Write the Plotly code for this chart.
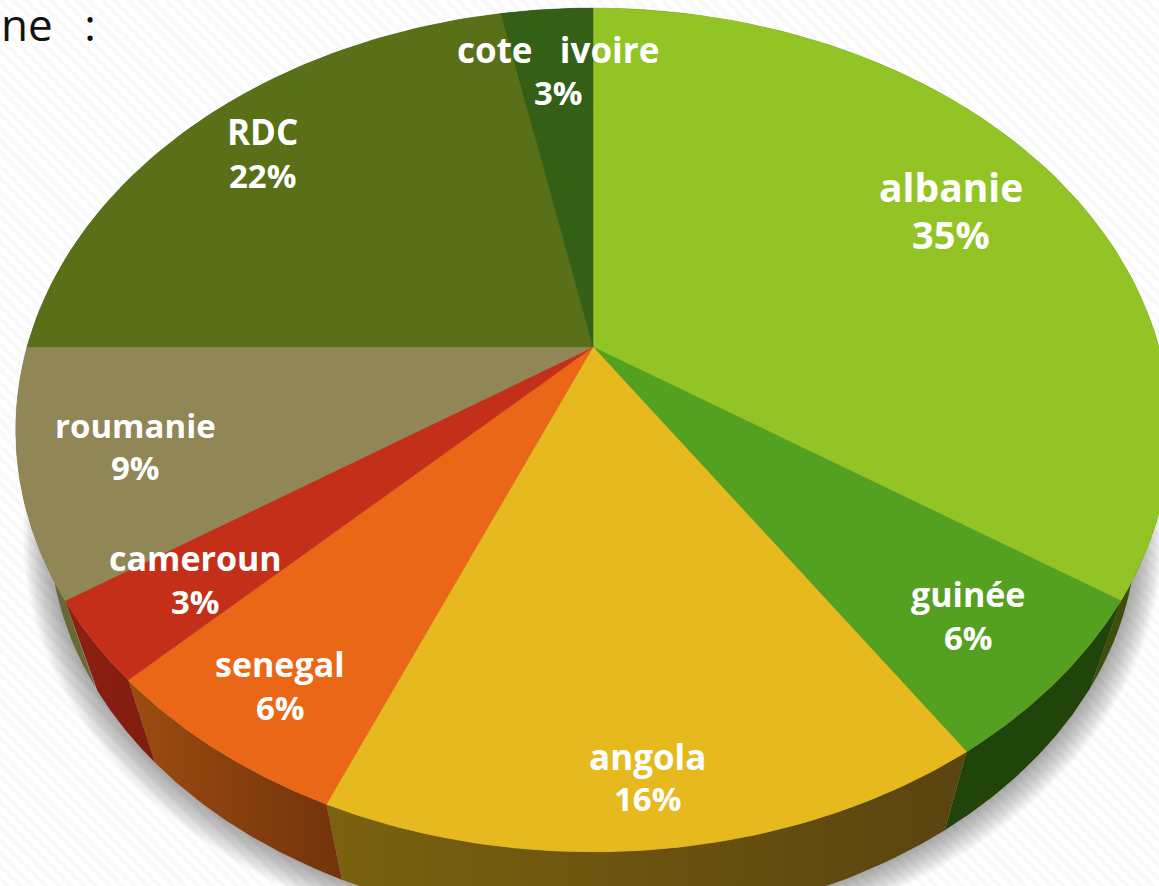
import numpy as np
import plotly.graph_objects as go

# ---- data ----
countries = ["albanie", "guinée", "angola", "senegal", "cameroun", "roumanie", "RDC", "cote  ivoire"]
shares = [34.4, 6.3, 15.6, 6.2, 3.1, 9.4, 21.9, 3.1]
percent_labels = ["35%", "6%", "16%", "6%", "3%", "9%", "22%", "3%"]

# ---- style ----
top_colors = ["#93C426", "#54A021", "#E6B91E", "#E96717", "#C42F1A", "#918655", "#5A7018", "#335F17"]
wall_left = ["#3F4D0A", "#21440B", "#7A6210", "#9C4C10", "#8E2112", "#6B6838", "#4A5A12", "#2A4E12"]
wall_right = ["#3F4D0A", "#21440B", "#5A440F", "#73330C", "#7E1C10", "#6B6838", "#4A5A12", "#2A4E12"]
label_x = [951, 968, 647, 280, 195, 135, 262, 558]
name_y = [186, 594, 756, 664, 558, 425, 131, 49]
pct_y = [234, 637, 798, 707, 601, 467, 175, 92]
name_size = [39, 34, 35, 34, 34, 33, 35, 35]
pct_size = [38, 33, 33, 33, 33, 33, 33, 33]
FONT = "'Open Sans', sans-serif"

W, H = 1159, 886
CX, CY = 593, 347        # top-face centre
A, B, K = 566, 405.6, 0.1966   # perspective projection of the unit disc
RIM_S, RIM_CY = 0.942, 449     # lower rim of the wall


def project(theta, r=1.0, s=1.0, cy=CY):
    ux, uy = r * np.sin(theta), r * np.cos(theta)
    d = 1 + K * uy
    return CX + s * A * ux / d, cy - s * B * uy / d


fig = go.Figure()

# hatched backdrop
fig.add_trace(go.Scatter(
    x=[0, W, W, 0, 0], y=[0, 0, H, H, 0], mode="lines", fill="toself", line=dict(width=0),
    fillcolor="white",
    fillpattern=dict(shape="\\", bgcolor="#FFFFFF", fgcolor="#F3F3F3", size=9, solidity=0.45),
    hoverinfo="skip", showlegend=False))

# soft shadow under the pie
circle = np.linspace(0, 2 * np.pi, 361)
for i in range(1, 15):
    s = RIM_S + i * 0.0032
    sx, sy = project(circle, s=s, cy=RIM_CY + i * 0.45)
    fig.add_trace(go.Scatter(x=sx, y=sy, mode="lines", fill="toself", line=dict(width=0),
                             fillcolor="rgba(60,60,60,0.035)", hoverinfo="skip", showlegend=False))

# slice boundaries from the data
frac = np.cumsum([0] + shares) / sum(shares) * 2 * np.pi

# side walls
for i in range(len(shares)):
    t = np.linspace(frac[i], frac[i + 1], 60)
    x1, y1 = project(t)
    x2, y2 = project(t[::-1], s=RIM_S, cy=RIM_CY)
    fig.add_trace(go.Scatter(
        x=np.r_[x1, x2, x1[0]], y=np.r_[y1, y2, y1[0]], mode="lines", fill="toself",
        line=dict(width=0),
        fillgradient=dict(type="horizontal",
                          colorscale=[[0, wall_left[i]], [1, wall_right[i]]]),
        hoverinfo="skip", showlegend=False))

# top face
for i, name in enumerate(countries):
    t = np.linspace(frac[i], frac[i + 1], 90)
    x, y = project(t)
    fig.add_trace(go.Scatter(
        x=np.r_[CX, x, CX], y=np.r_[CY, y, CY], mode="lines", fill="toself",
        line=dict(width=0.5, color=top_colors[i]), fillcolor=top_colors[i],
        name=name, showlegend=False, hoverinfo="skip"))

# labels
for i, name in enumerate(countries):
    fig.add_annotation(x=label_x[i], y=name_y[i], showarrow=False,
                       text=f"<b>{name.replace('  ', '&nbsp;&nbsp;&nbsp;')}</b>",
                       font=dict(family=FONT, size=name_size[i], color="white"))
    fig.add_annotation(x=label_x[i], y=pct_y[i], showarrow=False,
                       text=f"<b>{percent_labels[i]}</b>",
                       font=dict(family=FONT, size=pct_size[i], color="white"))

# cropped heading fragment at the top-left
fig.add_trace(go.Scatter(x=[1, 90], y=[30, 30], mode="text", text=["ne", ":"],
                         textposition=["middle right", "middle center"],
                         textfont=dict(family=FONT, size=44, color="#111111"),
                         hoverinfo="skip", showlegend=False, cliponaxis=False))

fig.update_layout(
    width=W, height=H, margin=dict(l=0, r=0, t=0, b=0),
    paper_bgcolor="white", plot_bgcolor="white", showlegend=False,
    xaxis=dict(range=[0, W], visible=False, fixedrange=True),
    yaxis=dict(range=[H, 0], visible=False, fixedrange=True),
)
fig.write_html("out.html", config={"displayModeBar": False},
               post_script="document.body.style.margin='0';document.body.style.overflow='hidden';")
